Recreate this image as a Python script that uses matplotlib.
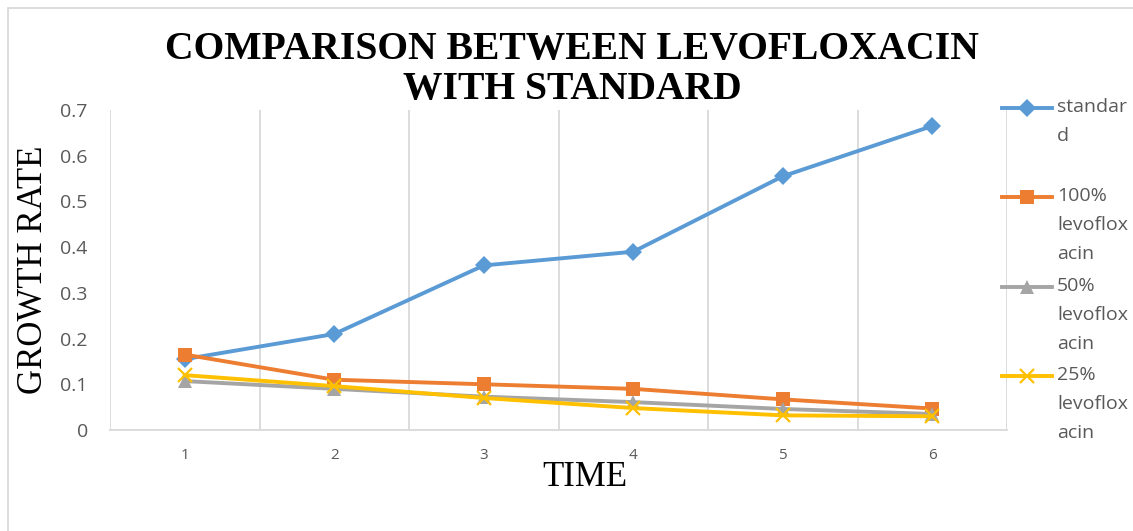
import matplotlib
matplotlib.use("Agg")
import matplotlib.pyplot as plt
from matplotlib.lines import Line2D
from matplotlib.patches import Rectangle
from matplotlib.ticker import FixedLocator, NullFormatter

# Data
time_points = [1, 2, 3, 4, 5, 6]
standard = [0.155, 0.21, 0.36, 0.39, 0.555, 0.665]
levo_100 = [0.165, 0.11, 0.10, 0.09, 0.067, 0.047]
levo_50 = [0.107, 0.09, 0.073, 0.061, 0.046, 0.035]
levo_25 = [0.12, 0.096, 0.07, 0.048, 0.032, 0.03]
series_names = ["standard", "100% levofloxacin", "50% levofloxacin", "25% levofloxacin"]
legend_labels = ["standar\nd", "100%\nlevoflox\nacin", "50%\nlevoflox\nacin", "25%\nlevoflox\nacin"]
y_ticks = [0, 0.1, 0.2, 0.3, 0.4, 0.5, 0.6, 0.7]
y_tick_labels = ["0", "0.1", "0.2", "0.3", "0.4", "0.5", "0.6", "0.7"]

colors = ["#5B9BD5", "#ED7D31", "#A5A5A5", "#FFC000"]
markers = ["D", "s", "^", "x"]
msizes = [9, 10, 10, 10]

W, H = 1133, 531
fig = plt.figure(figsize=(W / 100, H / 100), dpi=100)

# Chart area border
fig.add_artist(Rectangle((8 / W, -0.1), 1.2, 1.1 - 8 / H, transform=fig.transFigure,
                         fill=False, edgecolor="#D9D9D9", linewidth=1.3))

ax = fig.add_axes([110 / W, 1 - 430 / H, (1007 - 110) / W, (430 - 110) / H])

all_series = [standard, levo_100, levo_50, levo_25]
for vals, name, c, m, ms in zip(all_series, series_names, colors, markers, msizes):
    kw = dict(markeredgewidth=1.6) if m == "x" else dict(markeredgewidth=0)
    ax.plot(time_points, vals, color=c, linewidth=2.8, marker=m, markersize=ms,
            markerfacecolor=c, markeredgecolor=c, label=name, **kw)

ax.set_xlim(0.5, 6.5)
ax.set_ylim(0, 0.7)
ax.set_xticks(time_points)
ax.set_xticklabels([str(t) for t in time_points])
ax.xaxis.set_minor_locator(FixedLocator([x + 0.5 for x in range(0, 7)]))
ax.xaxis.set_minor_formatter(NullFormatter())
ax.grid(False)
ax.grid(True, axis="x", which="minor", color="#D9D9D9", linewidth=1.3)
ax.set_yticks(y_ticks)
ax.set_yticklabels(y_tick_labels)

for s in ["top", "right", "left"]:
    ax.spines[s].set_visible(False)
ax.spines["bottom"].set_color("#D9D9D9")
ax.spines["bottom"].set_linewidth(1.3)
ax.tick_params(axis="both", which="both", length=0)
ax.tick_params(axis="y", pad=16, labelsize=14, labelcolor="#595959")
ax.tick_params(axis="x", pad=13, labelsize=11, labelcolor="#595959")
for lab in ax.get_xticklabels() + ax.get_yticklabels():
    lab.set_fontfamily("Open Sans")

# Title and axis titles
fig.text(572 / W, 1 - 50 / H, "COMPARISON BETWEEN LEVOFLOXACIN", ha="center", va="center",
         fontsize=28.5, fontweight="bold", family="Liberation Serif")
fig.text(572 / W, 1 - 89 / H, "WITH STANDARD", ha="center", va="center",
         fontsize=28.5, fontweight="bold", family="Liberation Serif")
fig.text(34 / W, 1 - 270 / H, "GROWTH RATE", rotation=90, ha="center", va="center",
         fontsize=25, family="Liberation Serif")
fig.text(585 / W, 1 - 477 / H, "TIME", ha="center", va="center",
         fontsize=25, family="Liberation Serif")

# Legend
legend_rows = [108, 197, 287, 376]
for y, lab, c, m, ms in zip(legend_rows, legend_labels, colors, markers, msizes):
    yf = 1 - y / H
    fig.add_artist(Line2D([1002 / W, 1052 / W], [yf, yf], transform=fig.transFigure,
                          color=c, linewidth=2.8))
    kw = dict(markeredgewidth=1.6) if m == "x" else dict(markeredgewidth=0)
    fig.add_artist(Line2D([1027 / W], [yf], transform=fig.transFigure, color=c,
                          marker=m, markersize=ms, markerfacecolor=c, markeredgecolor=c, **kw))
    fig.text(1057 / W, 1 - (y - 10) / H, lab, ha="left", va="top", fontsize=14,
             color="#595959", family="Open Sans", linespacing=1.8)

fig.savefig("out.png", dpi=100)
